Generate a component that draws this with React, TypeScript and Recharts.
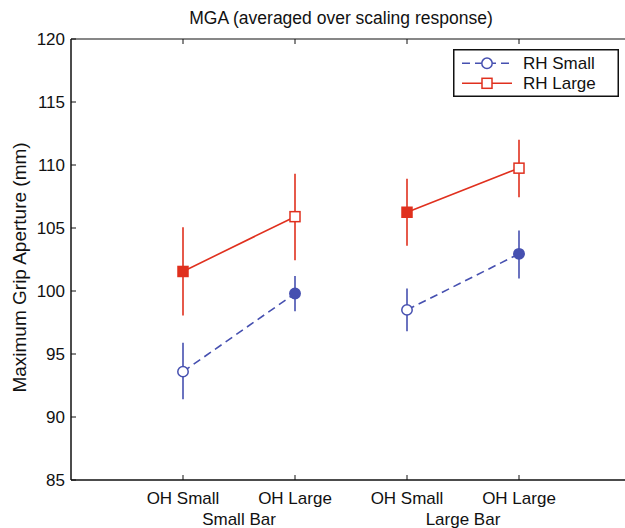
import React from 'react';
import { ComposedChart, Line, XAxis, YAxis, ErrorBar } from 'recharts';

const xPositions = [1, 2, 3, 4];
const xTickLabels = ['OH Small', 'OH Large', 'OH Small', 'OH Large'];
const groupLabels = ['Small Bar', 'Large Bar'];
const yTicks = [85, 90, 95, 100, 105, 110, 115, 120];

const rhSmallMean = [93.6, 99.8, 98.5, 102.95];
const rhSmallLow = [91.4, 98.4, 96.8, 101.0];
const rhSmallHigh = [95.9, 101.2, 100.2, 104.8];
const rhSmallFilled = [false, true, false, true];

const rhLargeMean = [101.55, 105.9, 106.25, 109.75];
const rhLargeLow = [98.05, 102.45, 103.6, 107.45];
const rhLargeHigh = [105.05, 109.3, 108.9, 112.0];
const rhLargeFilled = [true, false, true, false];

const BLUE = '#4650b0';
const RED = '#e0301e';
const AXIS = '#111';
const FONT = '"Liberation Sans", Arial, sans-serif';

// Build the table; a null row separates the two bar groups so lines are not joined across groups.
const rows: any[] = [];
xPositions.forEach((x, i) => {
  rows.push({
    x,
    small: rhSmallMean[i],
    smallErr: [rhSmallMean[i] - rhSmallLow[i], rhSmallHigh[i] - rhSmallMean[i]],
    smallFilled: rhSmallFilled[i],
    large: rhLargeMean[i],
    largeErr: [rhLargeMean[i] - rhLargeLow[i], rhLargeHigh[i] - rhLargeMean[i]],
    largeFilled: rhLargeFilled[i],
  });
  if (i === 1) {
    rows.push({ x: (xPositions[1] + xPositions[2]) / 2, small: null, smallErr: null, large: null, largeErr: null });
  }
});

const groupCenters = [
  (xPositions[0] + xPositions[1]) / 2,
  (xPositions[2] + xPositions[3]) / 2,
];

const makeDot = (shape: 'circle' | 'square', color: string, valueKey: string, filledKey: string) => (props: any) => {
  const { cx, cy, payload, index } = props;
  if (cx == null || cy == null || payload == null || payload[valueKey] == null) return <g key={`e-${index}`} />;
  const filled = payload[filledKey];
  if (shape === 'circle') {
    return (
      <circle key={`d-${index}`} cx={cx} cy={cy} r={5.2} fill={filled ? color : '#fff'} stroke={color} strokeWidth={1.5} />
    );
  }
  return (
    <rect key={`d-${index}`} x={cx - 5} y={cy - 5} width={10} height={10} fill={filled ? color : '#fff'} stroke={color} strokeWidth={1.5} />
  );
};

const YTick = (props: any) => {
  const { x, y, payload } = props;
  return (
    <g>
      <line x1={x} x2={x + 5} y1={y} y2={y} stroke={AXIS} strokeWidth={1} />
      <text x={x - 6} y={y} dy={6} textAnchor="end" fontSize={17} fontFamily={FONT} fill="#111">
        {payload.value}
      </text>
    </g>
  );
};

const XTick = (props: any) => {
  const { x, y, payload } = props;
  const i = xPositions.indexOf(payload.value);
  const label = i >= 0 ? xTickLabels[i] : '';
  return (
    <g>
      <line x1={x} x2={x} y1={y} y2={y - 5} stroke={AXIS} strokeWidth={1} />
      <text x={x} y={y} dy={23.5} textAnchor="middle" fontSize={17} fontFamily={FONT} fill="#111">
        {label}
      </text>
    </g>
  );
};

const GroupTick = (props: any) => {
  const { x, y, payload } = props;
  const idx = groupCenters.indexOf(payload.value);
  return (
    <text x={x} y={y} dy={43.5} textAnchor="middle" fontSize={17} fontFamily={FONT} fill="#111">
      {idx >= 0 ? groupLabels[idx] : ''}
    </text>
  );
};

const TopTick = (props: any) => {
  const { x, y } = props;
  return <line x1={x} x2={x} y1={y} y2={y + 5} stroke={AXIS} strokeWidth={1} />;
};

const YLabel = (props: any) => {
  const vb = props.viewBox || { x: 0, y: 39, width: 71, height: 441 };
  const cx = vb.x + 26;
  const cy = vb.y + vb.height / 2 + 8;
  return (
    <text
      x={cx}
      y={cy}
      transform={`rotate(-90 ${cx} ${cy})`}
      textAnchor="middle"
      fontSize={19}
      fontFamily={FONT}
      fill="#111"
    >
      Maximum Grip Aperture (mm)
    </text>
  );
};

const Legend = () => (
  <div style={{ position: 'absolute', left: 453, top: 49, width: 166, height: 48 }}>
    <svg width={166} height={48} style={{ display: 'block' }}>
      <rect x={0.75} y={0.75} width={164.5} height={46.5} fill="#fff" stroke={AXIS} strokeWidth={1.5} />
      <line x1={9} x2={59} y1={14.3} y2={14.3} stroke={BLUE} strokeWidth={1.5} strokeDasharray="8 5" />
      <circle cx={34} cy={14.3} r={5.2} fill="#fff" stroke={BLUE} strokeWidth={1.5} />
      <text x={70} y={14.3} dy={6} fontSize={17} fontFamily={FONT} fill="#111">RH Small</text>
      <line x1={9} x2={59} y1={34.3} y2={34.3} stroke={RED} strokeWidth={1.5} />
      <rect x={29} y={29.3} width={10} height={10} fill="#fff" stroke={RED} strokeWidth={1.5} />
      <text x={70} y={34.3} dy={6} fontSize={17} fontFamily={FONT} fill="#111">RH Large</text>
    </svg>
  </div>
);

export default function App() {
  return (
    <div style={{ position: 'absolute', left: 0, top: 0, width: 625, height: 528, overflow: 'hidden', background: '#fff' }}>
      <div
        style={{
          position: 'absolute',
          left: 0,
          width: 682,
          top: 6,
          textAlign: 'center',
          fontFamily: FONT,
          fontSize: 17.5,
          color: '#111',
          lineHeight: '24px',
          whiteSpace: 'nowrap',
        }}
      >
        MGA (averaged over scaling response)
      </div>
      <ComposedChart width={640} height={528} data={rows} margin={{ top: 38, right: 9, bottom: 46, left: 0 }}>
        <XAxis
          dataKey="x"
          type="number"
          domain={[0, 5]}
          ticks={xPositions}
          interval={0}
          height={1}
          tickSize={0}
          tickMargin={0}
          axisLine={{ stroke: AXIS, strokeWidth: 1.5 }}
          tickLine={false}
          tick={<XTick />}
        />
        <XAxis
          xAxisId="grp"
          dataKey="x"
          type="number"
          domain={[0, 5]}
          ticks={groupCenters}
          interval={0}
          height={1}
          tickSize={0}
          tickMargin={0}
          axisLine={false}
          tickLine={false}
          tick={<GroupTick />}
        />
        <XAxis
          xAxisId="top"
          orientation="top"
          dataKey="x"
          type="number"
          domain={[0, 5]}
          ticks={xPositions}
          interval={0}
          height={1}
          tickSize={0}
          tickMargin={0}
          axisLine={{ stroke: AXIS, strokeWidth: 1.2 }}
          tickLine={false}
          tick={<TopTick />}
        />
        <YAxis
          type="number"
          domain={[85, 120]}
          ticks={yTicks}
          interval={0}
          width={71}
          tickSize={0}
          tickMargin={0}
          axisLine={{ stroke: AXIS, strokeWidth: 1.5 }}
          tickLine={false}
          tick={<YTick />}
          label={<YLabel />}
        />
        <Line
          dataKey="large"
          stroke={RED}
          strokeWidth={1.6}
          isAnimationActive={false}
          connectNulls={false}
          dot={makeDot('square', RED, 'large', 'largeFilled')}
          activeDot={false}
        >
          <ErrorBar dataKey="largeErr" width={0} stroke={RED} strokeWidth={1.6} direction="y" />
        </Line>
        <Line
          dataKey="small"
          stroke={BLUE}
          strokeWidth={1.6}
          strokeDasharray="8 5"
          isAnimationActive={false}
          connectNulls={false}
          dot={makeDot('circle', BLUE, 'small', 'smallFilled')}
          activeDot={false}
        >
          <ErrorBar dataKey="smallErr" width={0} stroke={BLUE} strokeWidth={1.6} direction="y" />
        </Line>
      </ComposedChart>
      <Legend />
    </div>
  );
}
